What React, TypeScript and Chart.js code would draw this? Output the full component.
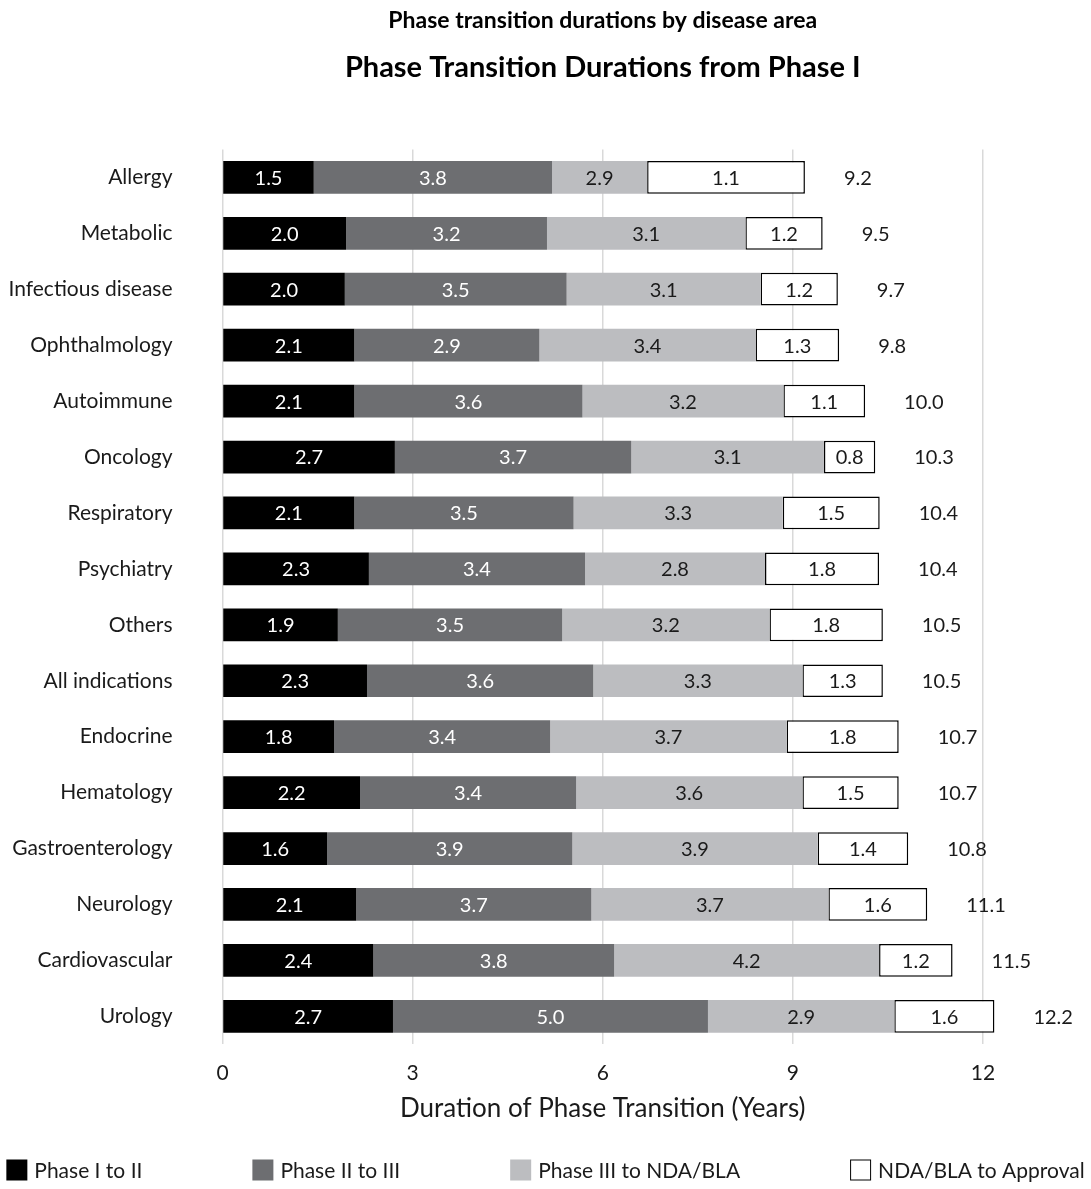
import React, { useEffect, useRef } from "react";
import { Chart, registerables } from "chart.js";

Chart.register(...registerables);

const categories = [
  "Allergy",
  "Metabolic",
  "Infectious disease",
  "Ophthalmology",
  "Autoimmune",
  "Oncology",
  "Respiratory",
  "Psychiatry",
  "Others",
  "All indications",
  "Endocrine",
  "Hematology",
  "Gastroenterology",
  "Neurology",
  "Cardiovascular",
  "Urology",
];

const seriesNames = ["Phase I to II", "Phase II to III", "Phase III to NDA/BLA", "NDA/BLA to Approval"];

// bar lengths as drawn (years)
const phase1 = [1.44, 1.95, 1.93, 2.08, 2.08, 2.72, 2.08, 2.31, 1.82, 2.28, 1.76, 2.17, 1.65, 2.11, 2.38, 2.69];
const phase2 = [3.76, 3.17, 3.5, 2.92, 3.6, 3.73, 3.46, 3.41, 3.54, 3.57, 3.41, 3.41, 3.87, 3.71, 3.8, 4.97];
const phase3 = [1.5, 3.13, 3.06, 3.41, 3.17, 3.04, 3.3, 2.84, 3.27, 3.3, 3.73, 3.57, 3.87, 3.74, 4.18, 2.94];
const approval = [2.49, 1.22, 1.22, 1.32, 1.29, 0.81, 1.53, 1.8, 1.79, 1.27, 1.77, 1.52, 1.43, 1.56, 1.16, 1.58];

// printed labels
const phase1Labels = ["1.5", "2.0", "2.0", "2.1", "2.1", "2.7", "2.1", "2.3", "1.9", "2.3", "1.8", "2.2", "1.6", "2.1", "2.4", "2.7"];
const phase2Labels = ["3.8", "3.2", "3.5", "2.9", "3.6", "3.7", "3.5", "3.4", "3.5", "3.6", "3.4", "3.4", "3.9", "3.7", "3.8", "5.0"];
const phase3Labels = ["2.9", "3.1", "3.1", "3.4", "3.2", "3.1", "3.3", "2.8", "3.2", "3.3", "3.7", "3.6", "3.9", "3.7", "4.2", "2.9"];
const approvalLabels = ["1.1", "1.2", "1.2", "1.3", "1.1", "0.8", "1.5", "1.8", "1.8", "1.3", "1.8", "1.5", "1.4", "1.6", "1.2", "1.6"];
const totalLabels = ["9.2", "9.5", "9.7", "9.8", "10.0", "10.3", "10.4", "10.4", "10.5", "10.5", "10.7", "10.7", "10.8", "11.1", "11.5", "12.2"];

const xTicks = [0, 3, 6, 9, 12];

const FONT = "Lato, 'Noto Sans', sans-serif";
const colors = ["#000000", "#6d6e71", "#bcbdc0", "#ffffff"];
const labelColors = ["#ffffff", "#ffffff", "#1a1a1a", "#1a1a1a"];

export default function App() {
  const ref = useRef<HTMLCanvasElement | null>(null);

  useEffect(() => {
    document.body.style.margin = "0";
    const canvas = ref.current;
    if (!canvas) return;

    const allLabels = [phase1Labels, phase2Labels, phase3Labels, approvalLabels];

    const labelPlugin = {
      id: "segLabels",
      afterDatasetsDraw(chart: any) {
        const ctx = chart.ctx;
        ctx.save();
        ctx.font = `20px ${FONT}`;
        ctx.textBaseline = "middle";
        chart.data.datasets.forEach((ds: any, di: number) => {
          const meta = chart.getDatasetMeta(di);
          meta.data.forEach((bar: any, i: number) => {
            const cx = (bar.x + bar.base) / 2;
            ctx.fillStyle = labelColors[di];
            ctx.textAlign = "center";
            ctx.fillText(allLabels[di][i], cx, bar.y + 1);
            if (di === chart.data.datasets.length - 1) {
              ctx.fillStyle = "#1a1a1a";
              ctx.textAlign = "left";
              ctx.fillText(totalLabels[i], bar.x + 39, bar.y + 1);
            }
          });
        });
        ctx.restore();
      },
    };

    const legendPlugin = {
      id: "bottomLegend",
      afterDraw(chart: any) {
        const ctx = chart.ctx;
        ctx.save();
        ctx.font = `21px ${FONT}`;
        ctx.textBaseline = "middle";
        ctx.textAlign = "left";
        const box = 21;
        const textGap = 7;
        const itemGap = 110;
        const widths = seriesNames.map((n) => box + textGap + ctx.measureText(n).width);
        const total = widths.reduce((a, b) => a + b, 0) + itemGap * (seriesNames.length - 1);
        let x = (chart.width - total) / 2;
        const cy = chart.height - 19;
        seriesNames.forEach((n, i) => {
          ctx.fillStyle = colors[i];
          ctx.fillRect(x, cy - box / 2, box, box);
          if (i === 3) {
            ctx.strokeStyle = "#000";
            ctx.lineWidth = 1;
            ctx.strokeRect(x + 0.5, cy - box / 2 + 0.5, box - 1, box - 1);
          }
          ctx.fillStyle = "#1a1a1a";
          ctx.fillText(n, x + box + textGap, cy + 1);
          x += widths[i] + itemGap;
        });
        ctx.restore();
      },
    };

    const data = [phase1, phase2, phase3, approval];

    const chart = new Chart(canvas, {
      type: "bar",
      data: {
        labels: categories,
        datasets: seriesNames.map((name, i) => ({
          label: name,
          data: data[i],
          backgroundColor: colors[i],
          borderColor: "#000000",
          borderWidth: i === 3 ? 1.5 : 0,
          borderSkipped: false,
          barPercentage: 1,
          categoryPercentage: 0.585,
          clip: false as any,
        })),
      },
      options: {
        indexAxis: "y",
        animation: false,
        responsive: false,
        maintainAspectRatio: false,
        layout: { padding: { left: 0, right: 108, top: 0, bottom: 56.4 } },
        plugins: {
          legend: { display: false },
          tooltip: { enabled: false },
          title: {
            display: true,
            text: "Phase transition durations by disease area",
            color: "#000",
            fullSize: false,
            font: { family: FONT, size: 23, weight: "bold" },
            padding: { top: 7.2, bottom: 8 },
          },
          subtitle: {
            display: true,
            text: "Phase Transition Durations from Phase I",
            color: "#000",
            fullSize: false,
            font: { family: FONT, size: 29, weight: "bold" },
            padding: { top: 7.8, bottom: 64 },
          },
        },
        scales: {
          x: {
            stacked: true,
            min: 0,
            max: 12,
            afterBuildTicks: (scale: any) => {
              scale.ticks = xTicks.map((v) => ({ value: v }));
            },
            afterFit: (scale: any) => {
              scale.height = 88.3;
            },
            grid: { color: "#d9d9d9", lineWidth: 1.5, drawTicks: false },
            border: { display: false },
            ticks: {
              font: { family: FONT, size: 21 },
              color: "#1a1a1a",
              padding: 16,
            },
            title: {
              display: true,
              text: "Duration of Phase Transition (Years)",
              font: { family: FONT, size: 26 },
              color: "#1a1a1a",
              padding: { top: 8, bottom: 8 },
            },
          },
          y: {
            stacked: true,
            afterFit: (scale: any) => {
              scale.width = 222.5;
            },
            grid: { display: false, drawTicks: false },
            border: { display: false },
            ticks: {
              font: { family: FONT, size: 21 },
              color: "#1a1a1a",
              padding: 50,
            },
          },
        },
      },
      plugins: [labelPlugin, legendPlugin],
    } as any);

    return () => chart.destroy();
  }, []);

  return (
    <div style={{ width: 1091, height: 1189, background: "#fff" }}>
      <canvas ref={ref} width={1091} height={1189} style={{ display: "block", width: 1091, height: 1189 }} />
    </div>
  );
}
